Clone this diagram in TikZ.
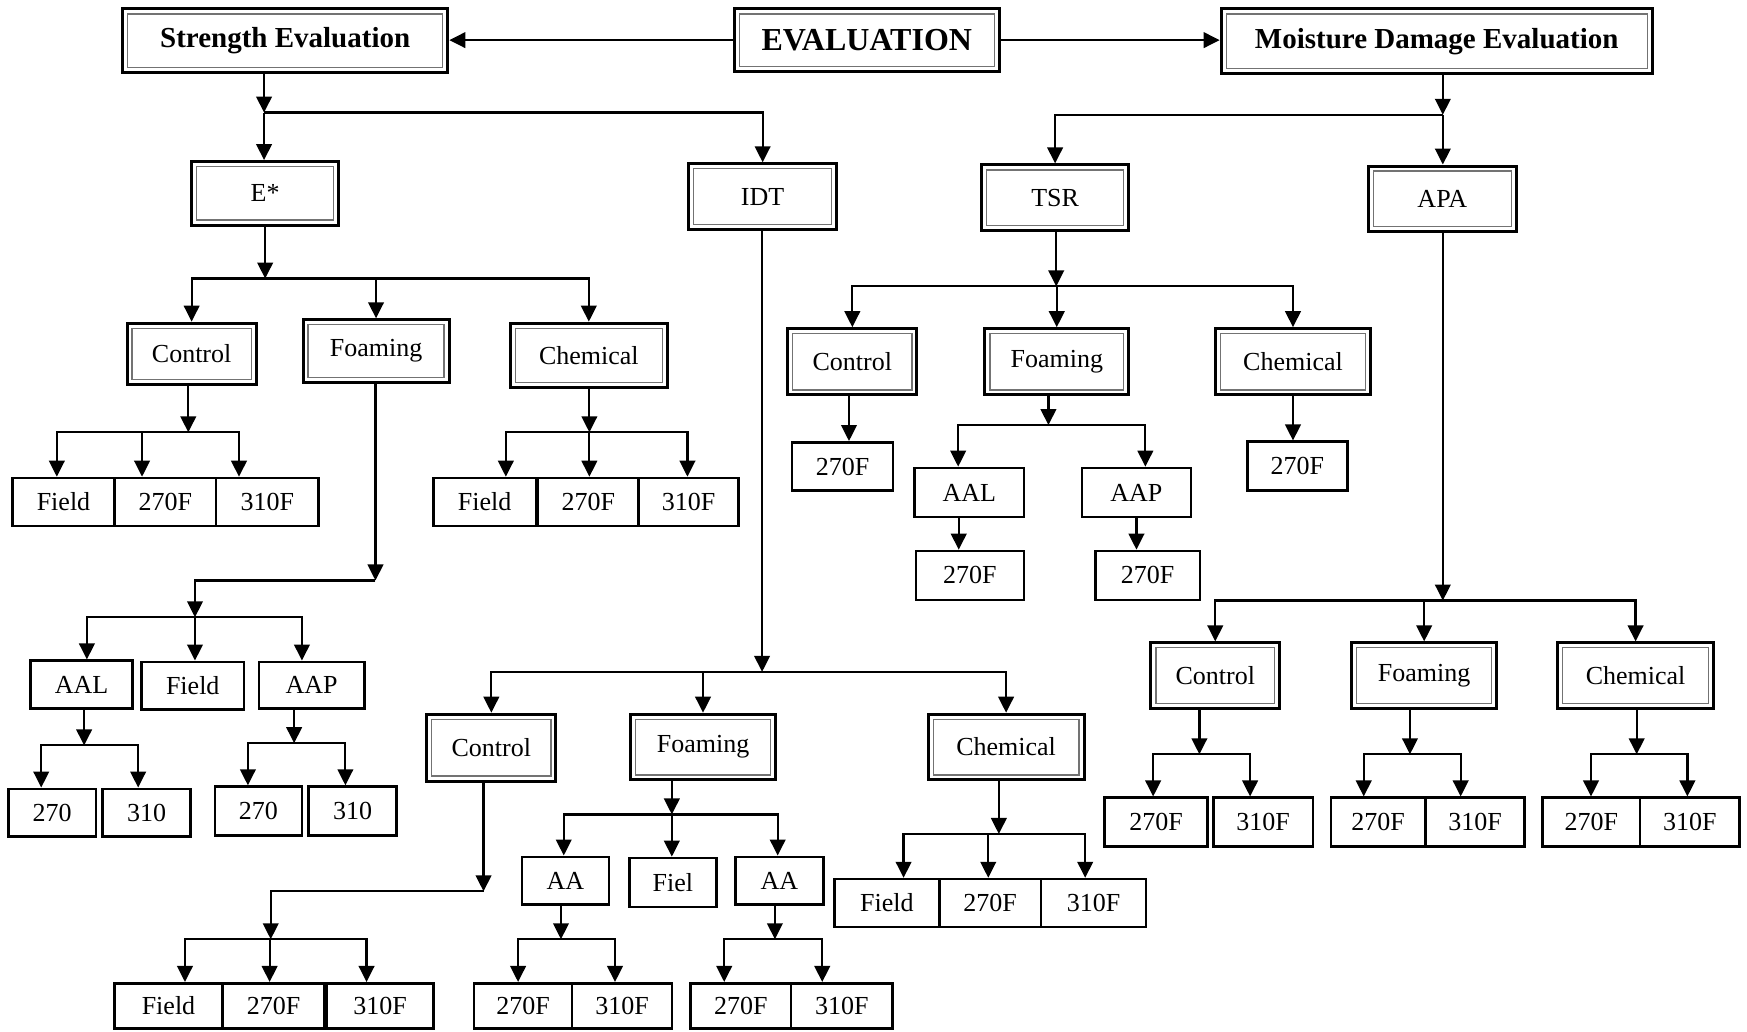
\documentclass[tikz,border=0pt]{standalone}
\usepackage{fontspec}
\setmainfont{Liberation Serif}
\usetikzlibrary{arrows.meta,fit}
\begin{document}
\begin{tikzpicture}[x=0.5571pt,y=-0.5571pt,
  every node/.style={inner sep=0pt, font=\fontsize{13}{15}\selectfont},
  frame/.style={draw, line width=1.5pt, fit={#1},
    path picture={\draw[line width=0.6pt, black!55]
      ([shift={(2.5pt,2.5pt)}]path picture bounding box.south west) rectangle
      ([shift={(-2.5pt,-2.5pt)}]path picture bounding box.north east);}},
  leaf/.style={draw, line width=1.3pt, fit={#1}},
  title/.style={font=\bfseries\fontsize{14.5}{17}\selectfont},
  link/.style={line width=1.1pt},
  arr/.style={link, -{Triangle[width=7.8pt,length=8pt]}}]
\useasboundingbox (0,0) rectangle (1568,926);

% top row
\node[frame={(110,8) (402,65)}, label={[title]center:Strength Evaluation}] (se) {};
\node[frame={(659,8) (897,64)}, label={[title, font=\bfseries\fontsize{16}{19}\selectfont]center:EVALUATION}] (ev) {};
\node[frame={(1096,8) (1483,66)}, label={[title]center:Moisture Damage Evaluation}] (md) {};

% tests
\node[frame={(172,145) (304,202)}, label=center:E*] (es) {};
\node[frame={(618,147) (751,206)}, label=center:IDT] (idt) {};
\node[frame={(881,148) (1013,207)}, label=center:TSR] (tsr) {};
\node[frame={(1228,149) (1361,208)}, label=center:APA] (apa) {};

% E* branch
\node[frame={(114,290) (230,345)}, label=center:Control] (ec) {};
\node[frame={(272,287) (403,343)}, label=center:Foaming] (ef) {};
\node[frame={(458,290) (599,348)}, label=center:Chemical] (ech) {};
\node[leaf={(11,429) (103,472)}, label=center:Field] (ecF) {};
\node[leaf={(103,429) (194,472)}, label=center:270F] (ec270) {};
\node[leaf={(194,429) (286,472)}, label=center:310F] (ec310) {};
\node[leaf={(389,429) (481,472)}, label=center:Field] (echF) {};
\node[leaf={(483,429) (573,472)}, label=center:270F] (ech270) {};
\node[leaf={(573,429) (663,472)}, label=center:310F] (ech310) {};
\node[leaf={(27.5,593) (119,636)}, label=center:AAL] (efL) {};
\node[leaf={(127,594) (219,637)}, label=center:Field] (efF) {};
\node[leaf={(232.5,594) (327,636)}, label=center:AAP] (efP) {};
\node[leaf={(7.5,708) (86,751)}, label=center:270] (efL270) {};
\node[leaf={(92,708) (171,751)}, label=center:310] (efL310) {};
\node[leaf={(193,706) (271,750)}, label=center:270] (efP270) {};
\node[leaf={(277,706) (356,750)}, label=center:310] (efP310) {};

% IDT branch
\node[frame={(383,641) (499,701)}, label=center:Control] (ic) {};
\node[frame={(566,641) (696,700)}, label=center:Foaming] (ifo) {};
\node[frame={(833,641) (973,700)}, label=center:Chemical] (ich) {};
\node[leaf={(103,882.5) (199.5,923)}, label=center:Field] (icF) {};
\node[leaf={(199.5,882.5) (291.5,923)}, label=center:270F] (ic270) {};
\node[leaf={(293.5,882.5) (389,923)}, label=center:310F] (ic310) {};
\node[leaf={(468.5,769) (546.5,812)}, label=center:AA] (ifoA) {};
\node[leaf={(565,770) (643,814)}, label=center:Fiel] (ifoF) {};
\node[leaf={(660,769) (739,812)}, label=center:AA] (ifoB) {};
\node[leaf={(425.5,882.5) (513.5,923)}, label=center:270F] (ifoA270) {};
\node[leaf={(513.5,882.5) (603,923)}, label=center:310F] (ifoA310) {};
\node[leaf={(620,882.5) (710,923)}, label=center:270F] (ifoB270) {};
\node[leaf={(710,882.5) (801,923)}, label=center:310F] (ifoB310) {};
\node[leaf={(749,789) (843,832)}, label=center:Field] (ichF) {};
\node[leaf={(843,789) (934.5,832)}, label=center:270F] (ich270) {};
\node[leaf={(934.5,789) (1028.5,832)}, label=center:310F] (ich310) {};

% TSR branch
\node[frame={(707,295) (823,354.5)}, label=center:Control] (tc) {};
\node[frame={(884,295) (1013,354.5)}, label=center:Foaming] (tf) {};
\node[frame={(1091,295) (1230,354.5)}, label=center:Chemical] (tch) {};
\node[leaf={(711,397) (801.5,440.5)}, label=center:270F] (tc270) {};
\node[leaf={(821,420) (919,464)}, label=center:AAL] (tfL) {};
\node[leaf={(971,420) (1069,464)}, label=center:AAP] (tfP) {};
\node[leaf={(822,494.5) (919,538.5)}, label=center:270F] (tfL270) {};
\node[leaf={(983,494.5) (1077,538.5)}, label=center:270F] (tfP270) {};
\node[leaf={(1119.5,396.5) (1209.5,440)}, label=center:270F] (tch270) {};

% APA branch
\node[frame={(1033,577) (1148.5,636)}, label=center:Control] (ac) {};
\node[frame={(1213,577) (1343.5,636)}, label=center:Foaming] (af) {};
\node[frame={(1398,577) (1538,636)}, label=center:Chemical] (ach) {};
\node[leaf={(991.5,716) (1084,760)}, label=center:270F] (ac270) {};
\node[leaf={(1089,716) (1178.5,760)}, label=center:310F] (ac310) {};
\node[leaf={(1194.5,716) (1279.5,760)}, label=center:270F] (af270) {};
\node[leaf={(1279.5,716) (1368.5,760)}, label=center:310F] (af310) {};
\node[leaf={(1384.5,716) (1472,760)}, label=center:270F] (ach270) {};
\node[leaf={(1472,716) (1561.5,760)}, label=center:310F] (ach310) {};

% top links
\draw[arr] (ev.west) -- (ev.west -| se.east);
\draw[arr] (ev.east) -- (ev.east -| md.west);

% strength
\coordinate (jS) at (237,101);
\draw[arr] (jS |- se.south) -- (jS);
\draw[arr] (jS) -- (jS |- es.north);
\draw[arr] (jS) -| (idt.north);

\coordinate (jE) at (238,250);
\draw[arr] (jE |- es.south) -- (jE);
\foreach \n in {ec,ef,ech} \draw[arr] (jE) -| (\n.north);

\coordinate (jEC) at (169,388);
\draw[arr] (jEC |- ec.south) -- (jEC);
\foreach \x/\n in {51/ecF,127.5/ec270,214.5/ec310} \draw[arr] (jEC) -| (\x,0 |- \n.north);

\coordinate (jECH) at (529,388);
\draw[arr] (jECH |- ech.south) -- (jECH);
\foreach \x/\n in {454/echF,529/ech270,617/ech310} \draw[arr] (jECH) -| (\x,0 |- \n.north);

\coordinate (kEF) at (337,521);
\coordinate (jEF) at (175,554);
\draw[arr] (kEF |- ef.south) -- (kEF);
\draw[arr] (kEF) -| (jEF);
\foreach \x/\n in {78/efL,175/efF,271/efP} \draw[arr] (jEF) -| (\x,0 |- \n.north);

\coordinate (jEL) at (75.5,669);
\draw[arr] (jEL |- efL.south) -- (jEL);
\foreach \x/\n in {37/efL270,124/efL310} \draw[arr] (jEL) -| (\x,0 |- \n.north);

\coordinate (jEP) at (264,667);
\draw[arr] (jEP |- efP.south) -- (jEP);
\foreach \x/\n in {222.5/efP270,310/efP310} \draw[arr] (jEP) -| (\x,0 |- \n.north);

% IDT
\coordinate (jI) at (684,603);
\draw[arr] (jI |- idt.south) -- (jI);
\foreach \n in {ic,ifo,ich} \draw[arr] (jI) -| (\n.north);

\coordinate (kIC) at (434,800);
\coordinate (jIC) at (243,843);
\draw[arr] (kIC |- ic.south) -- (kIC);
\draw[arr] (kIC) -| (jIC);
\foreach \x/\n in {166/icF,242/ic270,329/ic310} \draw[arr] (jIC) -| (\x,0 |- \n.north);

\coordinate (jIF) at (603,731);
\draw[arr] (jIF |- ifo.south) -- (jIF);
\foreach \x/\n in {506/ifoA,603/ifoF,698/ifoB} \draw[arr] (jIF) -| (\x,0 |- \n.north);

\coordinate (jIA) at (503.5,843);
\draw[arr] (jIA |- ifoA.south) -- (jIA);
\foreach \x/\n in {465/ifoA270,552/ifoA310} \draw[arr] (jIA) -| (\x,0 |- \n.north);

\coordinate (jIB) at (695.5,843);
\draw[arr] (jIB |- ifoB.south) -- (jIB);
\foreach \x/\n in {650/ifoB270,738/ifoB310} \draw[arr] (jIB) -| (\x,0 |- \n.north);

\coordinate (jICH) at (896.5,748.5);
\draw[arr] (jICH |- ich.south) -- (jICH);
\foreach \x/\n in {811/ichF,887/ich270,974/ich310} \draw[arr] (jICH) -| (\x,0 |- \n.north);

% moisture
\coordinate (jM) at (1295,103);
\draw[arr] (jM |- md.south) -- (jM);
\draw[arr] (jM) -| (tsr.north);
\draw[arr] (jM) -- (jM |- apa.north);

% TSR
\coordinate (jT) at (948,257);
\draw[arr] (jT |- tsr.south) -- (jT);
\foreach \n in {tc,tf,tch} \draw[arr] (jT) -| (\n.north);
\draw[arr] (tc.south -| 762,0) -- (tc270.north -| 762,0);
\draw[arr] (tch.south) -- (tch.south |- tch270.north);

\coordinate (jTF) at (941,381.5);
\draw[arr] (jTF |- tf.south) -- (jTF);
\foreach \x/\n in {860/tfL,1028/tfP} \draw[arr] (jTF) -| (\x,0 |- \n.north);
\draw[arr] (tfL.south -| 860.5,0) -- (tfL270.north -| 860.5,0);
\draw[arr] (tfP.south) -- (tfP.south |- tfP270.north);

% APA
\coordinate (jA) at (1295,539);
\draw[arr] (jA |- apa.south) -- (jA);
\foreach \n in {ac,af,ach} \draw[arr] (jA) -| (\n.north);

\coordinate (jAC) at (1076.5,677);
\draw[arr] (jAC |- ac.south) -- (jAC);
\foreach \x/\n in {1035/ac270,1122/ac310} \draw[arr] (jAC) -| (\x,0 |- \n.north);

\coordinate (jAF) at (1265.5,677);
\draw[arr] (jAF |- af.south) -- (jAF);
\foreach \x/\n in {1224/af270,1311/af310} \draw[arr] (jAF) -| (\x,0 |- \n.north);

\coordinate (jACH) at (1469,677);
\draw[arr] (jACH |- ach.south) -- (jACH);
\foreach \x/\n in {1428/ach270,1514.5/ach310} \draw[arr] (jACH) -| (\x,0 |- \n.north);
\end{tikzpicture}
\end{document}
